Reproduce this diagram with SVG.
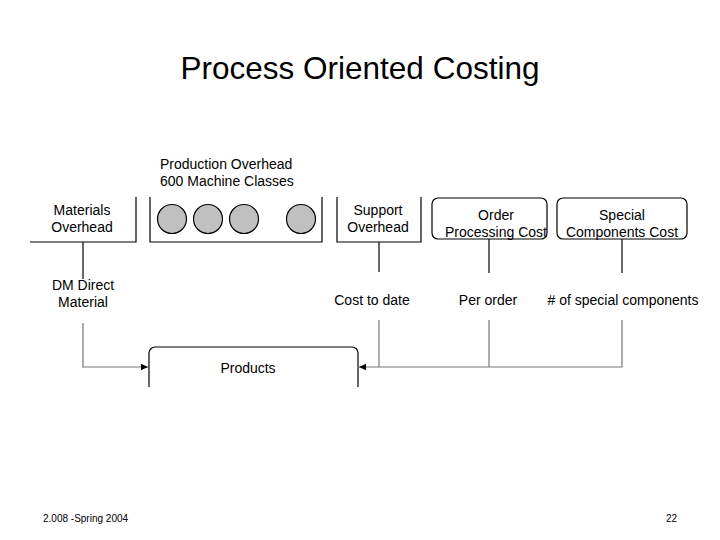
<svg xmlns="http://www.w3.org/2000/svg" width="720" height="540" viewBox="0 0 720 540">
<style>
text{font-family:"Liberation Sans",Arial,sans-serif;fill:#000}
.t{font-size:14px;text-anchor:middle}
.box{fill:none;stroke:#000;stroke-width:1.2}
.c{fill:#c0c0c0;stroke:#000;stroke-width:1.2}
.ln{fill:none;stroke:#000;stroke-width:1.2}
.gl{fill:none;stroke:#777;stroke-width:1.2}
</style>
<defs>
<marker id="ah" markerWidth="8" markerHeight="8" refX="7" refY="4" orient="auto" markerUnits="userSpaceOnUse">
<path d="M0,0.8 L7,4 L0,7.2 Z" fill="#000"/>
</marker>
<clipPath id="pc"><rect x="140" y="340" width="230" height="47"/></clipPath>
</defs>
<rect width="720" height="540" fill="#fff"/>
<text x="360" y="79" style="font-size:31.5px;text-anchor:middle">Process Oriented Costing</text>

<g id="materials-overhead">
<path class="box" d="M30,242 H136 V197"/>
<text class="t" x="82" y="215">Materials</text>
<text class="t" x="82" y="232">Overhead</text>
</g>

<g id="production-overhead">
<text x="160" y="169" style="font-size:14px">Production Overhead</text>
<text x="160" y="186" style="font-size:14px">600 Machine Classes</text>
<path class="box" d="M150,197 V242 H322 V197"/>
<circle class="c" cx="172" cy="219" r="14.5"/>
<circle class="c" cx="208" cy="219" r="14.5"/>
<circle class="c" cx="244" cy="219" r="14.5"/>
<circle class="c" cx="301" cy="219" r="14.5"/>
</g>

<g id="support-overhead">
<path class="box" d="M337,197 V242 H421 V197"/>
<text class="t" x="378" y="215">Support</text>
<text class="t" x="378" y="232">Overhead</text>
</g>

<g id="order-processing">
<rect class="box" x="432" y="198" width="115" height="41" rx="6"/>
<text class="t" x="496" y="220">Order</text>
<text class="t" x="496" y="237">Processing Cost</text>
</g>

<g id="special-components">
<rect class="box" x="557" y="198" width="130" height="41" rx="6"/>
<text class="t" x="622" y="220">Special</text>
<text class="t" x="622" y="237">Components Cost</text>
</g>

<g id="dm-direct">
<text class="t" x="83" y="290">DM Direct</text>
<text class="t" x="83" y="307">Material</text>
</g>
<g id="cost-to-date"><text class="t" x="372" y="305">Cost to date</text></g>
<g id="per-order"><text class="t" x="488" y="305">Per order</text></g>
<g id="special-count"><text class="t" x="623" y="305"># of special components</text></g>

<g id="products">
<rect class="box" x="149" y="347" width="209" height="50" rx="6" clip-path="url(#pc)"/>
<text class="t" x="248" y="373">Products</text>
</g>

<g id="connectors">
<path class="ln" d="M83,242 V279"/>
<path class="ln" d="M379,242 V272"/>
<path class="ln" d="M489,239 V273"/>
<path class="ln" d="M622,239 V273"/>
<path class="gl" d="M83,323 V367 H148" marker-end="url(#ah)"/>
<path class="gl" d="M622,320 V367 H359" marker-end="url(#ah)"/>
<path class="gl" d="M379,320 V367"/>
<path class="gl" d="M489,320 V367"/>
</g>

<text x="43" y="522" style="font-size:10px">2.008 -Spring 2004</text>
<text x="666" y="522" style="font-size:10px">22</text>
</svg>
